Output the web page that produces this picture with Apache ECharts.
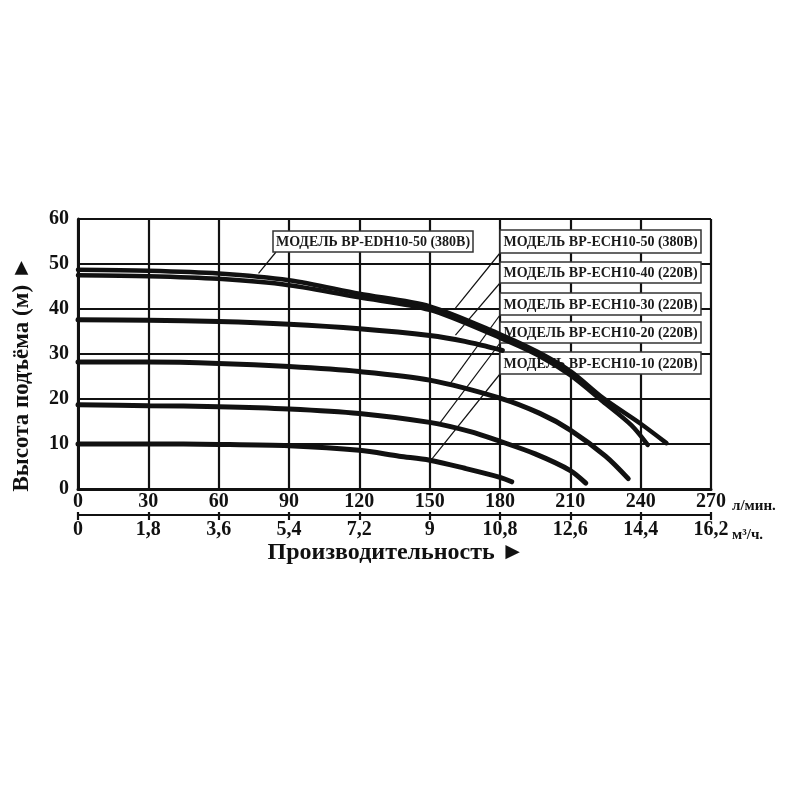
<!DOCTYPE html>
<html>
<head>
<meta charset="utf-8">
<script src="https://cdn.jsdelivr.net/npm/echarts@6/dist/echarts.min.js"></script>
<style>
  html, body { margin: 0; padding: 0; background: #fff; }
  #main { width: 800px; height: 800px; }
</style>
</head>
<body>
<div id="main"></div>
<script>
// ось X: л/мин. и м3/ч.
const flowTicks = [0, 30, 60, 90, 120, 150, 180, 210, 240, 270];
const m3hLabels = ['0', '1,8', '3,6', '5,4', '7,2', '9', '10,8', '12,6', '14,4', '16,2'];

// кривые насосов (расход л/мин, напор м)
const flowEdh50 = [0, 30, 60, 90, 120, 150, 180, 196, 210, 224, 240, 251];
const headEdh50 = [48.7, 48.5, 47.9, 46.4, 43.4, 40.6, 34.4, 30.5, 26.2, 20.2, 14.5, 10.2];
const flowEch50 = [0, 30, 60, 90, 120, 150, 180, 196, 210, 224, 236, 243];
const headEch50 = [47.5, 47.3, 46.7, 45.3, 42.6, 39.8, 33.6, 29.8, 25.3, 19.4, 14.2, 9.8];
const flowEch40 = [0, 30, 60, 90, 120, 150, 165, 181];
const headEch40 = [37.6, 37.5, 37.2, 36.6, 35.6, 34.1, 32.8, 30.8];
const flowEch30 = [0, 30, 60, 90, 120, 150, 180, 197, 210, 225, 234.7];
const headEch30 = [28.2, 28.2, 27.9, 27.2, 26.1, 24.2, 20.2, 16.8, 13.1, 7.3, 2.3];
const flowEch20 = [0, 30, 60, 90, 120, 150, 167, 180, 195, 210, 216.6];
const headEch20 = [18.7, 18.5, 18.3, 17.8, 16.8, 14.8, 12.8, 10.6, 7.8, 4.1, 1.3];
const flowEch10 = [0, 30, 60, 90, 120, 137, 150, 165, 180, 185];
const headEch10 = [10, 10, 9.9, 9.6, 8.6, 7.3, 6.4, 4.6, 2.6, 1.6];

const modelNames = [
  'МОДЕЛЬ ВР-EDH10-50 (380В)',
  'МОДЕЛЬ ВР-ECH10-50 (380В)',
  'МОДЕЛЬ ВР-ECH10-40 (220В)',
  'МОДЕЛЬ ВР-ECH10-30 (220В)',
  'МОДЕЛЬ ВР-ECH10-20 (220В)',
  'МОДЕЛЬ ВР-ECH10-10 (220В)'
];
// куда указывают выноски (в координатах графика)
const leaderTargets = [[77, 47.9], [161, 40.2], [161, 34.2], [159, 23.6], [154, 14.4], [151, 6.7]];

const myChart = echarts.init(document.getElementById('main'));
const serif = '"Liberation Serif", "DejaVu Serif", serif';
const ink = '#111';

const pairs = (xs, ys) => xs.map((x, i) => [x, ys[i]]);
const curves = [
  pairs(flowEdh50, headEdh50),
  pairs(flowEch50, headEch50),
  pairs(flowEch40, headEch40),
  pairs(flowEch30, headEch30),
  pairs(flowEch20, headEch20),
  pairs(flowEch10, headEch10)
];

const option = {
  backgroundColor: '#fff',
  animation: false,
  grid: { left: 78, right: 89, top: 219, bottom: 311 },
  xAxis: [
    {
      type: 'value', min: 0, max: 270, interval: 30,
      axisLine: { lineStyle: { color: ink, width: 3 } },
      axisTick: { show: false },
      axisLabel: { color: ink, fontFamily: serif, fontWeight: 'bold', fontSize: 20, margin: 3 },
      splitLine: { lineStyle: { color: ink, width: 2.2 } }
    },
    {
      type: 'value', min: 0, max: 270, interval: 30, position: 'bottom', offset: 26,
      axisLine: { lineStyle: { color: ink, width: 2.2 } },
      axisTick: { show: true, length: 5, lineStyle: { color: ink, width: 2.2 } },
      axisLabel: {
        color: ink, fontFamily: serif, fontWeight: 'bold', fontSize: 20, margin: 5,
        formatter: v => m3hLabels[flowTicks.indexOf(v)]
      },
      splitLine: { show: false }
    },
    {
      type: 'value', min: 0, max: 270, interval: 30, position: 'bottom', offset: 26,
      axisLine: { show: false },
      axisTick: { show: true, inside: true, length: 3, lineStyle: { color: ink, width: 2.2 } },
      axisLabel: { show: false },
      splitLine: { show: false }
    }
  ],
  yAxis: {
    type: 'value', min: 0, max: 60, interval: 10,
    axisLine: { show: true, lineStyle: { color: ink, width: 3 } },
    axisTick: { show: false },
    axisLabel: { color: ink, fontFamily: serif, fontWeight: 'bold', fontSize: 20, margin: 9 },
    splitLine: { lineStyle: { color: ink, width: 2.2 } }
  },
  series: curves.map((d, i) => ({
    name: modelNames[i],
    type: 'line',
    data: d,
    smooth: 0.3,
    showSymbol: false,
    z: 3,
    lineStyle: { color: ink, width: i < 2 ? 4.5 : 5, cap: 'round' }
  }))
};

myChart.setOption(option);

// подписи моделей и выноски
const boxes = [
  [273, 231, 200, 21],
  [500, 230, 201, 23],
  [500, 262, 201, 21],
  [500, 293, 201, 22],
  [500, 322, 201, 21],
  [500, 352, 201, 22]
];
const graphics = [];
boxes.forEach((b, i) => {
  const target = myChart.convertToPixel({ gridIndex: 0 }, leaderTargets[i]);
  const startX = i === 0 ? b[0] + 3 : b[0];
  graphics.push({
    type: 'line', z: 1, silent: true,
    shape: { x1: startX, y1: b[1] + b[3], x2: target[0], y2: target[1] },
    style: { stroke: ink, lineWidth: 1.2 }
  });
  graphics.push({
    type: 'rect', z: 1, silent: true,
    shape: { x: b[0], y: b[1], width: b[2], height: b[3] },
    style: { fill: '#fff', stroke: '#333', lineWidth: 1.5 }
  });
  graphics.push({
    type: 'text', z: 1, silent: true,
    x: b[0] + b[2] / 2, y: b[1] + b[3] / 2 + 1,
    style: {
      text: modelNames[i], fill: '#1a1a1a', font: 'bold 14px ' + serif,
      align: 'center', verticalAlign: 'middle'
    }
  });
});

// названия осей и единицы
graphics.push({
  type: 'text', silent: true, x: 22, y: 374, rotation: Math.PI / 2,
  style: { text: 'Высота подъёма (м) ►', fill: ink, font: 'bold 23px ' + serif, align: 'center', verticalAlign: 'middle' }
});
graphics.push({
  type: 'text', silent: true, x: 396, y: 553,
  style: { text: 'Производительность ►', fill: ink, font: 'bold 24px ' + serif, align: 'center', verticalAlign: 'middle' }
});
graphics.push({
  type: 'text', silent: true, x: 732, y: 506,
  style: { text: 'л/мин.', fill: ink, font: 'bold 15px ' + serif, align: 'left', verticalAlign: 'middle' }
});
graphics.push({
  type: 'text', silent: true, x: 732, y: 535,
  style: { text: 'м³/ч.', fill: ink, font: 'bold 15px ' + serif, align: 'left', verticalAlign: 'middle' }
});

myChart.setOption({ graphic: graphics });
</script>
</body>
</html>
